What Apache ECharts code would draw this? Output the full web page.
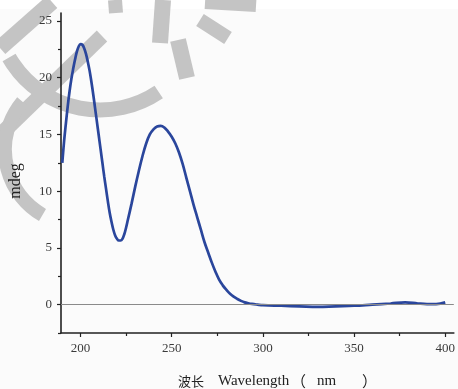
<!DOCTYPE html>
<html>
<head>
<meta charset="utf-8">
<script src="https://cdn.jsdelivr.net/npm/echarts@6/dist/echarts.min.js"></script>
<style>
html,body{margin:0;padding:0;background:#fff;}
#chart{width:458px;height:389px;}
</style>
</head>
<body>
<div id="chart"></div>
<script>
// Wavelength (nm)
const wavelengths = [190,191,192,193,194,195,196,197,198,199,200,201,202,203,204,205,206,207,208,209,210,211,212,213,214,215,216,217,218,219,220,221,222,223,224,225,226,228,230,232,234,236,238,240,242,244,246,248,250,252,254,256,258,260,262,264,266,268,270,272,274,276,278,280,282,284,286,288,290,292,294,297,300,310,320,330,340,350,360,370,378,385,390,395,400];
// CD signal (mdeg)
const mdegValues = [12.5,14.4,16.0,17.5,18.8,19.9,20.8,21.6,22.3,22.75,22.95,22.9,22.6,22.1,21.4,20.6,19.6,18.5,17.3,16.1,14.9,13.7,12.5,11.3,10.2,9.1,8.1,7.3,6.6,6.1,5.8,5.65,5.65,5.8,6.2,6.8,7.5,8.9,10.4,11.8,13.1,14.2,15.0,15.45,15.7,15.75,15.6,15.25,14.8,14.2,13.4,12.4,11.2,10.0,8.8,7.7,6.6,5.5,4.6,3.7,2.9,2.2,1.7,1.3,0.95,0.7,0.5,0.33,0.2,0.12,0.06,0.0,-0.05,-0.1,-0.15,-0.2,-0.15,-0.1,0.0,0.1,0.2,0.1,0.05,0.05,0.2];
// Tick labels
const xMajorTicks = [200,250,300,350,400];
const xMinorTicks = [225,275,325,375];
const yMajorTicks = [0,5,10,15,20,25];
const yMinorTicks = [-2.5,2.5,7.5,12.5,17.5,22.5];
// Axis titles
const yTitle = 'mdeg';
const xTitleParts = ['波长', 'Wavelength', '（', 'nm', '）'];

const serif = '"Liberation Serif","DejaVu Serif",serif';
const axisColor = '#222';
const xMin = 189.3, xMax = 404.7, yMin = -2.5, yMax = 25.7;

const chart = echarts.init(document.getElementById('chart'), null, {renderer:'canvas'});
const data = wavelengths.map((w,i)=>[w, mdegValues[i]]);

function mkX(show, ticks, len, labels){
  return {
    type:'value', min:xMin, max:xMax, gridIndex:0, position:'bottom',
    axisLine:{show:show, onZero:false, lineStyle:{color:axisColor,width:1.6}},
    axisTick:{show:true, customValues:ticks, length:len, lineStyle:{color:axisColor,width:1.2}},
    axisLabel:{show:labels, customValues:ticks, margin:9, color:'#3a3a3a', fontFamily:serif, fontSize:13},
    splitLine:{show:false}
  };
}
function mkY(show, ticks, len, labels){
  return {
    type:'value', min:yMin, max:yMax, gridIndex:0, position:'left',
    axisLine:{show:show, onZero:false, lineStyle:{color:axisColor,width:1.6}},
    axisTick:{show:true, customValues:ticks, length:len, lineStyle:{color:axisColor,width:1.2}},
    axisLabel:{show:labels, customValues:ticks, margin:9, color:'#3a3a3a', fontFamily:serif, fontSize:13},
    splitLine:{show:false}
  };
}

// decorative watermark strokes (background, not data)
const wm = '#c4c4c4';
function band(x1,y1,x2,y2,w){
  return {type:'line', shape:{x1:x1,y1:y1,x2:x2,y2:y2}, style:{stroke:wm, lineWidth:w}, z:-10, silent:true};
}
function arcBand(cx,cy,r,a0,a1,w){
  return {type:'arc', shape:{cx:cx,cy:cy,r:r,startAngle:a0*Math.PI/180,endAngle:a1*Math.PI/180,clockwise:true},
    style:{stroke:wm, lineWidth:w, fill:null}, z:-10, silent:true};
}
function txt(s, x, y, font, align, rot){
  return {type:'text', x:x, y:y, rotation:rot||0, z:10,
    style:{text:s, align:align, verticalAlign:'middle', font:font, fill:'#222'}};
}
const cjkFont = '13px "Noto Sans CJK SC",sans-serif';
const latFont = '15px "Liberation Serif","DejaVu Serif",serif';

const option = {
  backgroundColor:'#fff',
  animation:false,
  grid:{left:61, right:1, top:13, bottom:56, containLabel:false},
  xAxis:[mkX(true, xMajorTicks, 4, true), mkX(false, xMinorTicks, 3, false)],
  yAxis:[mkY(true, yMajorTicks, 4, true), mkY(false, yMinorTicks, 3, false)],
  graphic:[
    {type:'rect', shape:{x:0,y:9,width:458,height:380}, style:{fill:'#fbfbfb'}, z:-20, silent:true},
    band(52,2,0,48,16),
    band(102,36,0,135,15),
    arcBand(100,5,105,56,150,15),
    arcBand(80,150,75,120,220,14),
    band(115,0,116,13,14),
    band(163,0,160,43,16),
    band(178,40,187,78,16),
    band(200,20,228,38,14),
    band(205,3,256,6,12),
    txt(yTitle, 16, 181, '16px "Liberation Serif","DejaVu Serif",serif', 'center', Math.PI/2),
    txt(xTitleParts[0], 178, 381, cjkFont, 'left'),
    txt(xTitleParts[1], 218, 381, latFont, 'left'),
    txt(xTitleParts[2], 291, 381, cjkFont.replace('13px','15px'), 'left'),
    txt(xTitleParts[3], 317, 381, latFont, 'left'),
    txt(xTitleParts[4], 362, 381, cjkFont.replace('13px','15px'), 'left')
  ],
  series:[{
    type:'line', xAxisIndex:0, yAxisIndex:0, data:data, smooth:0.4, showSymbol:false,
    lineStyle:{color:'#2a469c', width:2.7},
    markLine:{silent:true, symbol:'none', label:{show:false},
      lineStyle:{color:'#8a8a8a', width:1.2, type:'solid'}, data:[{yAxis:0}]},
    z:3
  }]
};
chart.setOption(option);
</script>
</body>
</html>
